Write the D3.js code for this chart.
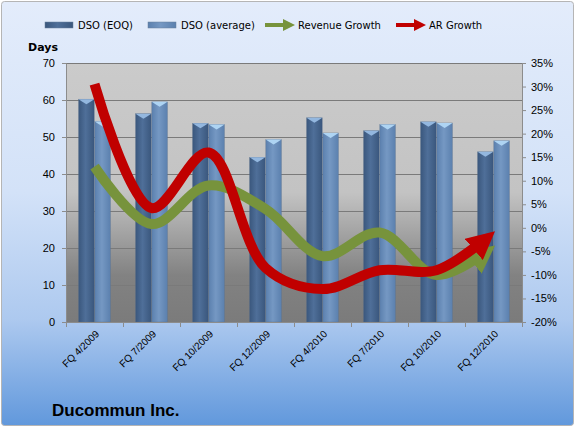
<!DOCTYPE html>
<html>
<head>
<meta charset="utf-8">
<script src="https://cdn.jsdelivr.net/npm/d3@7"></script>
<style>
  body { margin: 0; }
  svg { display: block; font-family: "DejaVu Sans", Verdana, sans-serif; }
</style>
</head>
<body>
<div id="chart"></div>
<script>
// quarters on the x axis
var categories = ["FQ 4/2009", "FQ 7/2009", "FQ 10/2009", "FQ 12/2009",
                  "FQ 4/2010", "FQ 7/2010", "FQ 10/2010", "FQ 12/2010"];
// days sales outstanding (left axis)
var dsoEoq = [60.2, 56.3, 53.7, 44.5, 55.2, 51.7, 54.1, 46.0];
var dsoAvg = [54.2, 59.5, 53.4, 49.3, 51.1, 53.4, 53.8, 49.0];
// growth rates in % (right axis)
var revenueGrowth = [13, 0.8, 9, 4, -6, -1, -10, -4];
var arGrowth = [30.5, 4.2, 16, -8.5, -13, -9, -9, -1];
var daysTicks = [0, 10, 20, 30, 40, 50, 60, 70];
var pctTicks = [-20, -15, -10, -5, 0, 5, 10, 15, 20, 25, 30, 35];

var width = 575, height = 427;
var margin = { top: 63, right: 53, bottom: 105, left: 66 };
var plotW = width - margin.left - margin.right;
var plotH = height - margin.top - margin.bottom;

var svg = d3.select("#chart").append("svg")
  .attr("width", width)
  .attr("height", height);

var defs = svg.append("defs");

// background of the whole chart
var bg = defs.append("linearGradient").attr("id", "bgGrad")
  .attr("x1", 0).attr("y1", 0).attr("x2", 0).attr("y2", 1);
bg.append("stop").attr("offset", "0%").attr("stop-color", "#e3ecfb");
bg.append("stop").attr("offset", "45%").attr("stop-color", "#d3e2f8");
bg.append("stop").attr("offset", "75%").attr("stop-color", "#adc9ef");
bg.append("stop").attr("offset", "100%").attr("stop-color", "#6198dc");

// plot area, grey fading darker towards the bottom
var pg = defs.append("linearGradient").attr("id", "plotGrad")
  .attr("x1", 0).attr("y1", 0).attr("x2", 0).attr("y2", 1);
pg.append("stop").attr("offset", "0%").attr("stop-color", "#cbcbcb");
pg.append("stop").attr("offset", "50%").attr("stop-color", "#c3c3c3");
pg.append("stop").attr("offset", "82%").attr("stop-color", "#828282");
pg.append("stop").attr("offset", "100%").attr("stop-color", "#7b7b7b");

// cylinder-ish bar shading
function barGradient(id, edge, mid) {
  var g = defs.append("linearGradient").attr("id", id)
    .attr("x1", 0).attr("y1", 0).attr("x2", 1).attr("y2", 0);
  g.append("stop").attr("offset", "0%").attr("stop-color", edge);
  g.append("stop").attr("offset", "45%").attr("stop-color", mid);
  g.append("stop").attr("offset", "100%").attr("stop-color", edge);
}
barGradient("eoqGrad", "#3a577d", "#4f6f99");
barGradient("avgGrad", "#5b80ae", "#7598c3");

// arrow heads
function arrowMarker(id, color) {
  defs.append("marker").attr("id", id)
    .attr("markerUnits", "userSpaceOnUse")
    .attr("viewBox", "0 -14 28 28")
    .attr("markerWidth", 28).attr("markerHeight", 28)
    .attr("refX", 26).attr("refY", 0)
    .attr("orient", "auto")
    .append("path")
    .attr("d", "M0,-14L28,0L0,14Z")
    .attr("fill", color);
}
arrowMarker("arrowGreen", "#77933c");
arrowMarker("arrowRed", "#c00000");

svg.append("rect")
  .attr("x", 1.5).attr("y", 1.5)
  .attr("width", width - 3).attr("height", height - 3)
  .attr("rx", 3)
  .attr("fill", "url(#bgGrad)")
  .attr("stroke", "#b5b5b5");

// scales
var x = d3.scaleBand().domain(categories)
  .range([margin.left, margin.left + plotW])
  .paddingInner(0.44).paddingOuter(0.22);
var xSeries = d3.scaleBand().domain([0, 1])
  .range([0, x.bandwidth()]).paddingInner(0.03);
var yDays = d3.scaleLinear().domain([0, 70])
  .range([margin.top + plotH, margin.top]);
var yPct = d3.scaleLinear().domain([-20, 35])
  .range([margin.top + plotH, margin.top]);

// plot area
svg.append("rect")
  .attr("x", margin.left).attr("y", margin.top)
  .attr("width", plotW).attr("height", plotH)
  .attr("fill", "url(#plotGrad)");

// gridlines
svg.append("g").selectAll("line")
  .data(daysTicks.filter(function(d) { return d > 0; }))
  .enter().append("line")
  .attr("x1", margin.left).attr("x2", margin.left + plotW)
  .attr("y1", function(d) { return yDays(d) + 0.5; })
  .attr("y2", function(d) { return yDays(d) + 0.5; })
  .attr("stroke", "#7a7a7a")
  .attr("stroke-width", 1);

// bars
var seriesData = [
  { values: dsoEoq, fill: "url(#eoqGrad)" },
  { values: dsoAvg, fill: "url(#avgGrad)" }
];
seriesData.forEach(function(s, si) {
  var g = svg.append("g");
  s.values.forEach(function(v, i) {
    var bx = x(categories[i]) + xSeries(si);
    var bw = xSeries.bandwidth();
    var top = yDays(v);
    g.append("rect")
      .attr("x", bx).attr("y", top)
      .attr("width", bw).attr("height", yDays(0) - top)
      .attr("fill", s.fill)
      .attr("stroke", "#5a6f8a")
      .attr("stroke-opacity", 0.5)
      .attr("stroke-width", 0.6);
    // bevelled top cap
    g.append("path")
      .attr("d", "M" + bx + "," + top + "L" + (bx + bw) + "," + top +
                 "L" + (bx + bw - 3) + "," + (top + 2) +
                 "L" + (bx + bw / 2) + "," + (top + 5) +
                 "L" + (bx + 3) + "," + (top + 2) + "Z")
      .attr("fill", si === 0 ? "#93b7df" : "#aed4f3");
  });
});

// axes
var leftAxis = svg.append("g")
  .attr("transform", "translate(" + margin.left + ",0)")
  .call(d3.axisLeft(yDays).tickValues(daysTicks).tickSize(4).tickPadding(7));
var rightAxis = svg.append("g")
  .attr("transform", "translate(" + (margin.left + plotW) + ",0)")
  .call(d3.axisRight(yPct).tickValues(pctTicks).tickSize(4).tickPadding(5)
    .tickFormat(function(d) { return d + "%"; }));
var bottomAxis = svg.append("g")
  .attr("transform", "translate(0," + (margin.top + plotH) + ")")
  .call(d3.axisBottom(x).tickSize(0).tickPadding(6));

// tick marks between categories on the x axis
svg.append("g").selectAll("line")
  .data(d3.range(categories.length + 1))
  .enter().append("line")
  .attr("x1", function(i) { return margin.left + i * x.step() + 0.5; })
  .attr("x2", function(i) { return margin.left + i * x.step() + 0.5; })
  .attr("y1", margin.top + plotH)
  .attr("y2", margin.top + plotH + 5)
  .attr("stroke", "#8c8c8c");

[leftAxis, rightAxis, bottomAxis].forEach(function(a) {
  a.select(".domain").attr("stroke", "#8c8c8c");
  a.selectAll(".tick line").attr("stroke", "#8c8c8c");
  a.selectAll(".tick text").attr("fill", "#000").style("font-size", "11px");
});
bottomAxis.selectAll(".tick text")
  .style("font-family", "'Liberation Sans', Arial, sans-serif")
  .style("font-size", "10px")
  .attr("text-anchor", "end")
  .attr("x", 0).attr("y", 0)
  .attr("dy", "0.35em")
  .attr("transform", "translate(3,10) rotate(-45)");

// growth lines
var line = d3.line()
  .x(function(d, i) { return x(categories[i]) + x.bandwidth() / 2; })
  .y(function(d) { return yPct(d); })
  .curve(d3.curveCatmullRom.alpha(0.5));

function drawArrowLine(values, color, marker) {
  var p = svg.append("path")
    .datum(values)
    .attr("d", line)
    .attr("fill", "none")
    .attr("stroke", color)
    .attr("stroke-width", 10)
    .attr("marker-end", "url(#" + marker + ")");
  // stop the stroke inside the arrow head
  var len = p.node().getTotalLength();
  p.attr("stroke-dasharray", (len - 16) + " " + len);
}
drawArrowLine(revenueGrowth, "#77933c", "arrowGreen");
drawArrowLine(arGrowth, "#c00000", "arrowRed");

// legend
var legend = svg.append("g").style("font-size", "10px");
var legendItems = [
  { label: "DSO (EOQ)", type: "bar", fill: "url(#eoqGrad)", x: 45 },
  { label: "DSO (average)", type: "bar", fill: "url(#avgGrad)", x: 148 },
  { label: "Revenue Growth", type: "arrow", color: "#77933c", x: 265 },
  { label: "AR Growth", type: "arrow", color: "#c00000", x: 396 }
];
legendItems.forEach(function(it) {
  if (it.type === "bar") {
    legend.append("rect")
      .attr("x", it.x).attr("y", 22)
      .attr("width", 28).attr("height", 6)
      .attr("fill", it.fill)
      .attr("stroke", "#6a7f9a").attr("stroke-width", 0.5);
  } else {
    legend.append("line")
      .attr("x1", it.x).attr("x2", it.x + 20)
      .attr("y1", 25).attr("y2", 25)
      .attr("stroke", it.color).attr("stroke-width", 4);
    legend.append("path")
      .attr("d", "M" + (it.x + 18) + ",19L" + (it.x + 30) + ",25L" + (it.x + 18) + ",31Z")
      .attr("fill", it.color);
  }
  legend.append("text")
    .attr("x", it.x + 33).attr("y", 29)
    .text(it.label);
});

// axis title and chart caption
svg.append("text")
  .attr("x", 28).attr("y", 51)
  .style("font-size", "11px").style("font-weight", "bold")
  .text("Days");
svg.append("text")
  .attr("x", 52).attr("y", 416)
  .style("font-family", "'Liberation Sans', Arial, sans-serif")
  .style("font-size", "17px").style("font-weight", "bold")
  .text("Ducommun Inc.");
</script>
</body>
</html>
